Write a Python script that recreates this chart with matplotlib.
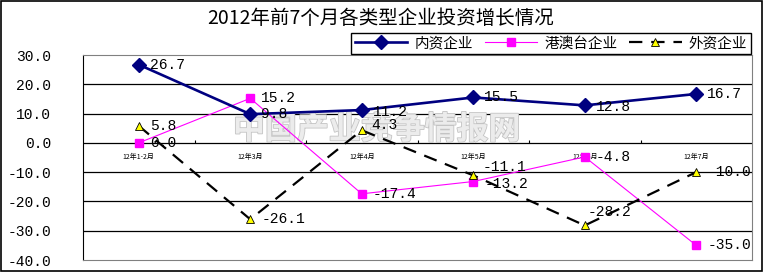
import matplotlib
matplotlib.use('Agg')
import matplotlib.pyplot as plt
import matplotlib.patheffects as pe
from matplotlib.patches import Rectangle

plt.rcParams['font.family'] = ['Noto Sans CJK SC', 'DejaVu Sans']

# data
months = ['12年1-2月', '12年3月', '12年4月', '12年5月', '12年6月', '12年7月']
domestic = [26.7, 9.8, 11.2, 15.5, 12.8, 16.7]
hk_macao_tw = [0.0, 15.2, -17.4, -13.2, -4.8, -35.0]
foreign = [5.8, -26.1, 4.3, -11.1, -28.2, -10.0]
series_names = ['内资企业', '港澳台企业', '外资企业']
title = '2012年前7个月各类型企业投资增长情况'
yticks = [30, 20, 10, 0, -10, -20, -30, -40]

fig = plt.figure(figsize=(7.64, 2.72), dpi=100)
ax = fig.add_axes([83/764, 1-260/272, 669/764, 205/272])

x = list(range(len(months)))
num_font = 'Liberation Mono'

ax.plot(x, domestic, color='#000080', lw=1.9, marker='D', ms=7,
        mec='#000080', mfc='#000080', label=series_names[0], zorder=4)
ax.plot(x, hk_macao_tw, color='#ff00ff', lw=0.8, marker='s', ms=6,
        mec='#ff00ff', mfc='#ff00ff', label=series_names[1], zorder=3)
ax.plot(x, foreign, color='black', lw=1.6, ls=(0, (6, 4)), marker='^', ms=6,
        mec='black', mew=0.6, mfc='#ffff00', label=series_names[2], zorder=5)

# data labels (pixel offsets)
def put_labels(vals, offs):
    for i, v in enumerate(vals):
        dx, dy = offs.get(i, (11, 0))
        ax.annotate(f'{v:.1f}', (i, v), xytext=(dx, dy), textcoords='offset pixels',
                    ha='left', va='center', fontsize=10.5, family=num_font,
                    color='black', zorder=6)

put_labels(domestic, {2: (11, -2), 4: (11, -2)})
put_labels(hk_macao_tw, {3: (11, -2)})
put_labels(foreign, {2: (10, 5), 3: (9, 8), 4: (3, 13)})

ax.set_xlim(-0.5, len(months) - 0.5)
ax.set_ylim(-40, 30)
ax.set_yticks(yticks)
ax.set_yticklabels([f'{v:.1f}' for v in yticks], family=num_font, fontsize=10.5)
ax.tick_params(axis='y', length=0, pad=23)
ax.set_xticks([])

for v in yticks[1:-1]:
    ax.axhline(v, color='black', lw=0.9, zorder=1)

# category axis at zero with boundary ticks
ax.vlines([i + 0.5 for i in x[:-1]], 0, 1.1, color='black', lw=0.8, zorder=1)
for i, m in enumerate(months):
    ax.annotate(m, (i, 0), xytext=(0, -14), textcoords='offset pixels',
                ha='center', va='center', fontsize=5, zorder=2)

for s in ['top', 'right', 'bottom']:
    ax.spines[s].set_color('#808080')
ax.spines['left'].set_color('black')

# watermark
ax.text(377/764, 1-130/272, '中国产业竞争情报网', transform=fig.transFigure,
        ha='center', va='center', fontsize=23, fontweight='bold',
        color='#ececec', zorder=2,
        path_effects=[pe.withStroke(linewidth=1.2, foreground='#c4c4c4')])

fig.text(381/764, 1-18/272, title, ha='center', va='center', fontsize=14)

leg = fig.legend(loc='center', bbox_to_anchor=(551/764, 1-43.5/272), ncol=3,
                 fontsize=10.5, frameon=True, fancybox=False, edgecolor='black',
                 framealpha=1, handlelength=3.6, handletextpad=0.5,
                 columnspacing=0.8, borderpad=0.25, borderaxespad=0)
leg.get_frame().set_linewidth(1.0)

fig.patches.append(Rectangle((0.001, 0.002), 0.996, 0.995, transform=fig.transFigure,
                             fill=False, edgecolor='black', lw=1.2))

fig.savefig('out.png', dpi=100, facecolor='white')
